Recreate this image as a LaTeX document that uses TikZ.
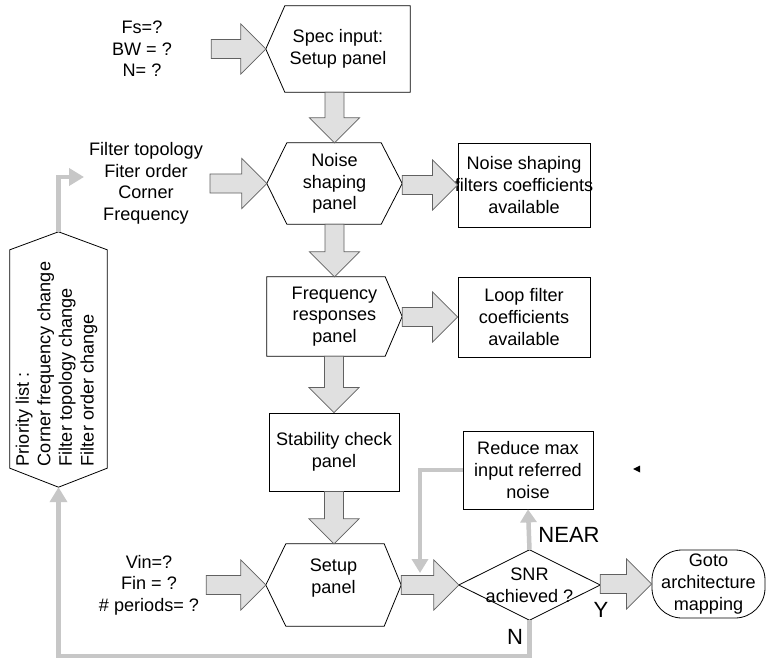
\documentclass[tikz,border=0pt]{standalone}
\usepackage{fontspec}
\setmainfont{Liberation Sans}
\usetikzlibrary{calc,arrows.meta}
\tikzset{
  lbl/.style={font=\fontsize{18.1}{21.6}\selectfont, align=center, inner sep=0pt},
  box/.style={lbl, draw, line width=0.8pt, fill=white},
  shapebox/.style={lbl, draw=none},
  outline/.style={draw, line width=0.8pt},
  barrow/.style={draw=black!62, fill=black!12, line width=0.75pt},
  graycon/.style={draw=black!22, line width=4.5pt, -{Triangle[length=15pt,width=17pt]}},
  big/.style={font=\fontsize{22}{26}\selectfont, inner sep=0pt},
}
\newcommand\harrow[2]{\draw[barrow] let \p1=#1, \p2=#2 in
  (\x1,\y2+9.5pt) -- (\x2-25pt,\y2+9.5pt) -- (\x2-25pt,\y2+25pt) -- (\x2,\y2)
  -- (\x2-25pt,\y2-25pt) -- (\x2-25pt,\y2-9.5pt) -- (\x1,\y2-9.5pt) -- cycle;}
\newcommand\varrow[2]{\draw[barrow] let \p1=#1, \p2=#2 in
  (\x1-9.5pt,\y1) -- (\x1-9.5pt,\y2+25pt) -- (\x1-25pt,\y2+25pt) -- (\x1,\y2)
  -- (\x1+25pt,\y2+25pt) -- (\x1+9.5pt,\y2+25pt) -- (\x1+9.5pt,\y1) -- cycle;}
\begin{document}
\begin{tikzpicture}[x=1pt,y=-1pt]
\useasboundingbox (0,0) rectangle (766,658);
\fill[white] (0,0) rectangle (766,658);

% input texts
\node[lbl] (fs) at (142,49) {Fs=?\\BW = ?\\N= ?};
\node[lbl] (filt) at (146,183.5) {Filter topology\\Fiter order\\Corner\\Frequency};
\node[lbl] (vin) at (149,585) {Vin=?\\Fin = ?\\\# periods= ?};

% spec input
\node[shapebox, minimum width=144pt, minimum height=86pt] (spec) at (338,49) {Spec input:\\Setup panel};
\draw[outline] ([xshift=19pt]spec.north west) -- (spec.north east) -- (spec.south east)
  -- ([xshift=19pt]spec.south west) -- (spec.west) -- cycle;

% noise shaping
\node[shapebox, minimum width=135pt, minimum height=81pt] (noise) at (334.5,183.5) {Noise\\shaping\\panel};
\draw[outline] ([xshift=20pt]noise.north west) -- ([xshift=-21pt]noise.north east) -- (noise.east)
  -- ([xshift=-21pt]noise.south east) -- ([xshift=20pt]noise.south west) -- (noise.west) -- cycle;

% frequency responses
\node[shapebox, minimum width=135pt, minimum height=79pt] (freq) at (334.5,316.5) {Frequency\\responses\\panel};
\draw[outline] (freq.north west) -- ([xshift=-17pt]freq.north east) -- (freq.east)
  -- ([xshift=-17pt]freq.south east) -- (freq.south west) -- cycle;

% stability
\node[box, minimum width=130pt, minimum height=78pt] (stab) at (334,452) {Stability check\\panel};

% setup panel
\node[shapebox, minimum width=135pt, minimum height=82pt] (setup) at (333.5,585) {};
\draw[outline] ([xshift=20pt]setup.north west) -- ([xshift=-17pt]setup.north east) -- (setup.east)
  -- ([xshift=-17pt]setup.south east) -- ([xshift=20pt]setup.south west) -- (setup.west) -- cycle;
\node[lbl] (setuptxt) at ([yshift=7pt]setup.center) {Setup\\panel};

% coefficient boxes
\node[box, minimum width=132pt, minimum height=84pt] (nscoef) at (524,185) {Noise shaping\\\makebox[0pt]{filters coefficients}\\available};
\node[box, minimum width=132pt, minimum height=80pt] (loopcoef) at (524,317) {Loop filter\\coefficients\\available};

% reduce
\node[box, minimum width=130pt, minimum height=78pt] (reduce) at (528,470) {Reduce max\\input referred\\noise};

% SNR diamond
\node[shapebox, minimum width=141pt, minimum height=70pt] (snr) at (529.5,585) {SNR\\achieved ?};
\draw[outline] (snr.west) -- (snr.north) -- (snr.east) -- (snr.south) -- cycle;

% goto
\node[box, rounded corners=30pt, minimum width=113pt, minimum height=68pt] (goto) at (708.5,584) {Goto\\architecture\\mapping};

% priority list
\node[shapebox, minimum width=97pt, minimum height=255pt] (prio) at (58.5,359.5) {};
\draw[outline] (prio.north) -- ([yshift=-18pt]prio.north east) -- ([yshift=19pt]prio.south east)
  -- (prio.south) -- ([yshift=19pt]prio.south west) -- ([yshift=-18pt]prio.north west) -- cycle;
\node[lbl, rotate=90, align=left] (priotxt) at (56.5,364) {Priority list :\\Corner frequency change\\Filter topology change\\Filter order change};

% block arrows
\harrow{([xshift=39pt]fs.east)}{(spec.west)}
\harrow{([xshift=7pt]filt.east)}{(noise.west)}
\harrow{([xshift=7pt]vin.east)}{(setup.west)}
\harrow{(noise.east)}{(nscoef.west)}
\harrow{(freq.east)}{(loopcoef.west)}
\harrow{(setup.east)}{(snr.west)}
\harrow{(snr.east)}{(goto.west)}
\varrow{(spec.south -| noise.north)}{(noise.north)}
\varrow{(noise.south)}{(freq.north -| noise.south)}
\varrow{(freq.south -| stab.north)}{(stab.north)}
\varrow{(stab.south)}{(setup.north -| stab.south)}

% gray feedback connectors
\coordinate (fbend) at (84,177);
\coordinate (loopend) at (420,573);
\draw[graycon] (prio.north) |- (fbend);
\draw[graycon] (snr.south) -- ++(0,36) -| (prio.south);
\draw[graycon, -{Triangle[length=13pt,width=16pt]}] (snr.north) -- (reduce.south);
\draw[graycon, -{Triangle[length=14pt,width=16pt]}] (reduce.west) -| (loopend);

% small mark
\fill (633,469) -- (640,465.5) -- (640,472.5) -- cycle;

% labels
\node[big] (near) at (569,535) {NEAR};
\node[big] (ylab) at (601,610) {Y};
\node[big] (nlab) at (515,637) {N};
\end{tikzpicture}
\end{document}
